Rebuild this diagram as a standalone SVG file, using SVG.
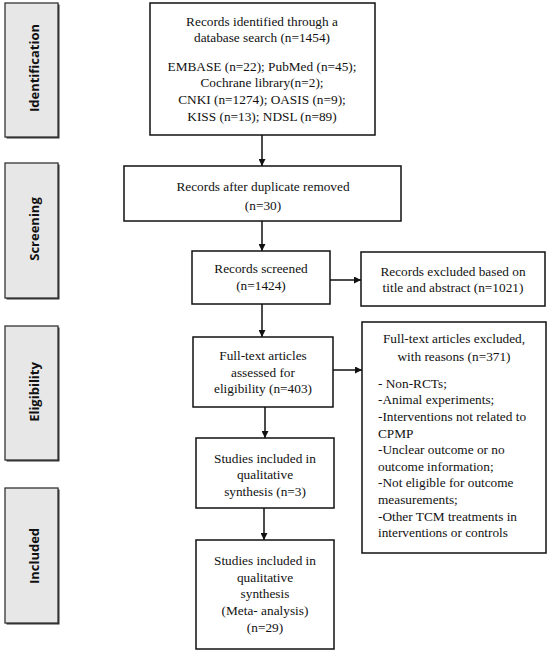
<svg xmlns="http://www.w3.org/2000/svg" width="550" height="653" viewBox="0 0 550 653">
<defs>
<style>
.box{fill:#fff;stroke:#111;stroke-width:1.5}
.lab{fill:#e7e7e7;stroke:#333;stroke-width:1.3}
.sh{fill:#333}
.t{font-family:"Liberation Serif","Times New Roman",serif;font-size:13.3px;fill:#111;text-anchor:middle}
.tl{font-family:"Liberation Serif","Times New Roman",serif;font-size:13.3px;fill:#111}
.st{font-family:"Open Sans","DejaVu Sans",sans-serif;font-size:13px;font-weight:bold;fill:#111;text-anchor:middle}
.c{stroke:#111;stroke-width:1.5;fill:none}
</style>
<marker id="ah" viewBox="0 0 10 10" refX="10" refY="5" markerWidth="7" markerHeight="7" markerUnits="userSpaceOnUse" orient="auto">
<path d="M0,0 L10,5 L0,10 z" fill="#111"/>
</marker>
</defs>
<g id="stage-identification">
<rect class="sh" x="6.5" y="4.5" width="53" height="134"/>
<rect class="lab" x="5" y="3" width="53" height="134"/>
<text class="st" transform="translate(38.5,68) rotate(-90)">Identification</text>
</g>
<g id="stage-screening">
<rect class="sh" x="6.5" y="164.5" width="53" height="135"/>
<rect class="lab" x="5" y="163" width="53" height="135"/>
<text class="st" transform="translate(38.5,229) rotate(-90)">Screening</text>
</g>
<g id="stage-eligibility">
<rect class="sh" x="6.5" y="327.5" width="53" height="134"/>
<rect class="lab" x="5" y="326" width="53" height="134"/>
<text class="st" transform="translate(38.5,392) rotate(-90)">Eligibility</text>
</g>
<g id="stage-included">
<rect class="sh" x="6.5" y="489.5" width="53" height="135"/>
<rect class="lab" x="5" y="488" width="53" height="135"/>
<text class="st" transform="translate(38.5,556) rotate(-90)">Included</text>
</g>
<g id="connectors">
<line class="c" x1="262" y1="135" x2="262" y2="166" marker-end="url(#ah)"/>
<line class="c" x1="262" y1="221" x2="262" y2="251" marker-end="url(#ah)"/>
<line class="c" x1="262" y1="304" x2="262" y2="337" marker-end="url(#ah)"/>
<line class="c" x1="265" y1="407" x2="265" y2="438" marker-end="url(#ah)"/>
<line class="c" x1="264" y1="508" x2="264" y2="540" marker-end="url(#ah)"/>
<line class="c" x1="330" y1="280" x2="361" y2="280" marker-end="url(#ah)"/>
<line class="c" x1="333" y1="370" x2="362" y2="370" marker-end="url(#ah)"/>
</g>
<g id="identified">
<rect class="box" x="150" y="3" width="225" height="132"/>
<text class="t" x="262" y="25.5">Records identified through a</text>
<text class="t" x="262" y="42">database search (n=1454)</text>
<text class="t" x="262" y="70.5">EMBASE (n=22); PubMed (n=45);</text>
<text class="t" x="262" y="87">Cochrane library(n=2);</text>
<text class="t" x="262" y="104">CNKI (n=1274); OASIS (n=9);</text>
<text class="t" x="262" y="121">KISS (n=13); NDSL (n=89)</text>
</g>
<g id="duplicates">
<rect class="box" x="124" y="166" width="277" height="55"/>
<text class="t" x="263" y="190.5">Records after duplicate removed</text>
<text class="t" x="263" y="209.5">(n=30)</text>
</g>
<g id="screened">
<rect class="box" x="192" y="251" width="138" height="53"/>
<text class="t" x="261" y="272.5">Records screened</text>
<text class="t" x="261" y="289.5">(n=1424)</text>
</g>
<g id="excluded-title">
<rect class="box" x="361" y="252" width="184" height="54"/>
<text class="t" x="453" y="275.5">Records excluded based on</text>
<text class="t" x="453" y="291.5">title and abstract (n=1021)</text>
</g>
<g id="fulltext">
<rect class="box" x="193" y="337" width="140" height="70"/>
<text class="t" x="263" y="359.5">Full-text articles</text>
<text class="t" x="263" y="376.5">assessed for</text>
<text class="t" x="263" y="392.5">eligibility (n=403)</text>
</g>
<g id="excluded-fulltext">
<rect class="box" x="362" y="322" width="184" height="231"/>
<text class="t" x="454" y="342.5">Full-text articles excluded,</text>
<text class="t" x="454" y="360.5">with reasons (n=371)</text>
<text class="tl" x="378" y="387.5">- Non-RCTs;</text>
<text class="tl" x="378" y="403.5">-Animal experiments;</text>
<text class="tl" x="378" y="420.5">-Interventions not related to</text>
<text class="tl" x="378" y="437.5">CPMP</text>
<text class="tl" x="378" y="453.5">-Unclear outcome or no</text>
<text class="tl" x="378" y="470.5">outcome information;</text>
<text class="tl" x="378" y="486.5">-Not eligible for outcome</text>
<text class="tl" x="378" y="503.5">measurements;</text>
<text class="tl" x="378" y="520.5">-Other TCM treatments in</text>
<text class="tl" x="378" y="536.5">interventions or controls</text>
</g>
<g id="qualitative">
<rect class="box" x="196" y="438" width="138" height="70"/>
<text class="t" x="265" y="462.5">Studies included in</text>
<text class="t" x="265" y="478.5">qualitative</text>
<text class="t" x="265" y="495.5">synthesis (n=3)</text>
</g>
<g id="meta">
<rect class="box" x="196" y="540" width="138" height="109"/>
<text class="t" x="265" y="564.5">Studies included in</text>
<text class="t" x="265" y="581.5">qualitative</text>
<text class="t" x="265" y="597.5">synthesis</text>
<text class="t" x="265" y="614.5">(Meta- analysis)</text>
<text class="t" x="265" y="631.5">(n=29)</text>
</g>
</svg>
